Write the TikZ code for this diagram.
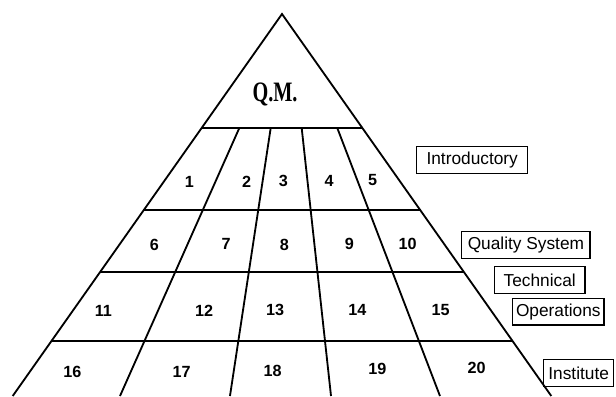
\documentclass[tikz,border=0pt]{standalone}
\usepackage{fontspec}
\setmainfont{Liberation Serif}
\setsansfont{Liberation Sans}
\usepackage{tikz}
\usetikzlibrary{calc}

\begin{document}
\begin{tikzpicture}[x=0.025cm, y=-0.025cm,
        edge/.style={draw=black, line width=1.3pt},
        cell/.style={font=\fontsize{11.5}{13}\selectfont\sffamily\bfseries, inner sep=0pt},
        tag/.style={draw=black, line width=0.9pt, inner sep=2pt, minimum height=0.66cm, font=\fontsize{12.3}{14}\selectfont\sffamily}]

        \useasboundingbox (0,0) rectangle (616,396);

        % outline of the pyramid
        \coordinate (apex) at (282,14);
        \coordinate (bl) at (12.7,396);
        \coordinate (br) at (551.3,396);
        \draw [edge] (bl) -- (apex) -- (br);

        % level lines
        \foreach \t/\n in {0.2984/a, 0.5131/b, 0.6754/c, 0.8560/d} {
            \coordinate (l\n) at ($(apex)!\t!(bl)$);
            \coordinate (r\n) at ($(apex)!\t!(br)$);
            \draw [edge] (l\n) -- (r\n);
        }

        % dividers
        \foreach \s/\e [count=\i] in {0.2345/0.1992, 0.4297/0.4034, 0.6225/0.5910, 0.8439/0.7933} {
            \coordinate (t\i) at ($(la)!\s!(ra)$);
            \coordinate (b\i) at ($(bl)!\e!(br)$);
            \draw [edge] (t\i) -- (b\i);
        }

        \node (qm) at (275,94.5) {\fontsize{20}{20}\selectfont\bfseries\scalebox{0.72}[1]{Q.M.}};

        % numbered cells
        \node [cell] (c1) at (189.3,181.7) {1};
        \node [cell] (c2) at (246.7,181.7) {2};
        \node [cell] (c3) at (283.3,181) {3};
        \node [cell] (c4) at (329,181) {4};
        \node [cell] (c5) at (372.7,180) {5};

        \node [cell] (c6) at (154.3,245) {6};
        \node [cell] (c7) at (226,244) {7};
        \node [cell] (c8) at (284.3,245) {8};
        \node [cell] (c9) at (349.3,244) {9};
        \node [cell] (c10) at (407.7,244.3) {10};

        \node [cell] (c11) at (103.3,310.7) {11};
        \node [cell] (c12) at (204,311) {12};
        \node [cell] (c13) at (275,310) {13};
        \node [cell] (c14) at (357.3,310) {14};
        \node [cell] (c15) at (440.7,310) {15};

        \node [cell] (c16) at (72.3,371.7) {16};
        \node [cell] (c17) at (181.7,371.7) {17};
        \node [cell] (c18) at (272.7,371) {18};
        \node [cell] (c19) at (377.3,369.3) {19};
        \node [cell] (c20) at (476.7,368.3) {20};

        % side labels
        \node [tag, minimum width=2.78cm] (intro) at (472.2,160) {Introductory};
        \node [tag, minimum width=3.21cm] (qsys) at (525.9,245) {Quality System};
        \node [tag, minimum width=2.27cm] (tech) at (539.7,280) {Technical};
        \node [tag, minimum width=2.28cm] (oper) at (558.3,311.7) {Operations};
        \node [tag, minimum width=1.75cm] (inst) at (578.7,373) {Institute};
\end{tikzpicture}
\end{document}
